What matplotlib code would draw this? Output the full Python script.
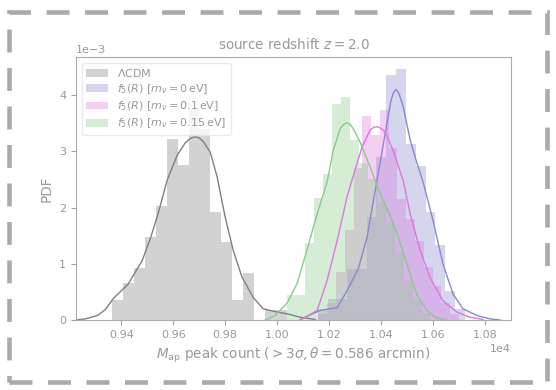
import numpy as np
import matplotlib
matplotlib.use("Agg")
import matplotlib.pyplot as plt
from matplotlib.patches import Rectangle

# ---------------- data (x in peak counts, pdf in units of 1e-3) ----------------
PDF_UNIT = 1e-3

lcdm_edges = [9364, 9406, 9448, 9490, 9532, 9575, 9617, 9659, 9701, 9743,
              9785, 9827, 9869, 9911, 9953, 9995, 10037]
lcdm_heights = [0.36, 0.65, 0.92, 1.47, 2.02, 3.22, 2.75, 3.78, 3.40, 1.93,
                1.38, 0.36, 0.83, 0.0, 0.18, 0.18]

f5_0_edges = [10156, 10194, 10231, 10269, 10307, 10344, 10382, 10420, 10458,
              10495, 10533, 10571, 10608, 10646, 10684, 10722]
f5_0_heights = [0.2, 0.38, 0.38, 0.91, 0.91, 1.83, 2.9, 4.36, 4.47, 3.14,
                2.74, 1.92, 1.33, 0.52, 0.2]

f5_01_edges = [10159, 10193, 10227, 10260, 10294, 10328, 10362, 10396, 10429,
               10463, 10497, 10531, 10565, 10598, 10632, 10666, 10700]
f5_01_heights = [0.1, 0.3, 0.85, 1.6, 2.7, 3.63, 3.29, 3.73, 3.06, 2.16,
                 1.8, 1.4, 0.95, 0.6, 0.3, 0.1]

f5_015_edges = [10038, 10073, 10107, 10142, 10176, 10211, 10245, 10280, 10314,
                10349, 10383, 10418, 10452, 10487, 10521, 10556, 10590]
f5_015_heights = [0.45, 0.45, 1.37, 2.17, 2.6, 3.84, 3.96, 3.2, 2.8, 2.5,
                  2.1, 1.7, 1.2, 0.7, 0.35, 0.12]

# KDE curves
lcdm_kde_x = [9226, 9262, 9308, 9338, 9369, 9427, 9481, 9512, 9538, 9577, 9615,
              9646, 9665, 9685, 9700, 9715, 9742, 9769, 9800, 9831, 9865, 9908,
              9946, 9992, 10038, 10088, 10146]
lcdm_kde_y = [0.0, 0.02, 0.08, 0.18, 0.38, 0.64, 1.06, 1.45, 1.83, 2.49, 2.93,
              3.15, 3.23, 3.26, 3.24, 3.18, 2.99, 2.55, 1.83, 1.24, 0.76, 0.40,
              0.2, 0.15, 0.11, 0.05, 0.01]

f5_0_kde_x = [10088, 10108, 10165, 10204, 10231, 10269, 10312, 10346, 10381,
              10415, 10438, 10448, 10458, 10468, 10485, 10512, 10538, 10562,
              10600, 10638, 10677, 10715, 10769, 10819, 10858]
f5_0_kde_y = [0.0, 0.05, 0.17, 0.2, 0.22, 0.52, 0.91, 1.47, 2.4, 3.3, 3.9,
              4.05, 4.1, 4.04, 3.8, 3.2, 2.79, 2.45, 1.77, 1.0, 0.46, 0.2,
              0.08, 0.02, 0.0]

f5_01_kde_x = [10088, 10108, 10154, 10192, 10231, 10269, 10288, 10327, 10358,
               10372, 10385, 10400, 10415, 10446, 10485, 10512, 10550, 10588,
               10638, 10692, 10742, 10792]
f5_01_kde_y = [0.0, 0.05, 0.17, 0.7, 1.41, 2.19, 2.49, 3.08, 3.38, 3.43, 3.44,
               3.41, 3.35, 3.02, 2.48, 1.89, 1.24, 0.76, 0.34, 0.14, 0.05, 0.01]

f5_015_kde_x = [9954, 9992, 10038, 10077, 10115, 10154, 10192, 10215, 10242,
                10256, 10269, 10281, 10292, 10319, 10358, 10396, 10435, 10462,
                10512, 10538, 10577, 10608, 10646]
f5_015_kde_y = [0.0, 0.08, 0.3, 0.65, 1.25, 1.89, 2.45, 3.0, 3.4, 3.48, 3.51,
                3.48, 3.41, 3.17, 2.72, 2.25, 1.85, 1.53, 0.82, 0.45, 0.17,
                0.05, 0.0]

labels = [r"$\Lambda$CDM",
          r"$f_5(R)$ [$m_\nu = 0\,$eV]",
          r"$f_5(R)$ [$m_\nu = 0.1\,$eV]",
          r"$f_5(R)$ [$m_\nu = 0.15\,$eV]"]
colors = ["#808080", "#8888cc", "#dd77dd", "#88cc88"]

xticks = [9400, 9600, 9800, 10000, 10200, 10400, 10600, 10800]
yticks = [0, 1, 2, 3, 4]

# ---------------- plot ----------------
TXT = "#999999"
plt.rcParams.update({
    "font.family": "DejaVu Sans",
    "font.size": 8,
    "text.color": TXT,
    "axes.labelcolor": TXT,
    "xtick.color": "#a0a0a0",
    "ytick.color": "#a0a0a0",
    "xtick.labelcolor": TXT,
    "ytick.labelcolor": TXT,
    "axes.edgecolor": "#aaaaaa",
})

fig = plt.figure(figsize=(5.56, 3.90), dpi=100)
ax = fig.add_axes([0.1367, 0.1795, 0.7824, 0.6744])

hists = [(lcdm_edges, lcdm_heights), (f5_0_edges, f5_0_heights),
         (f5_01_edges, f5_01_heights), (f5_015_edges, f5_015_heights)]
kdes = [(lcdm_kde_x, lcdm_kde_y), (f5_0_kde_x, f5_0_kde_y),
        (f5_01_kde_x, f5_01_kde_y), (f5_015_kde_x, f5_015_kde_y)]

handles = []
for (edges, h), (kx, ky), c, lab in zip(hists, kdes, colors, labels):
    e = np.asarray(edges, float)
    b = ax.bar(e[:-1], np.asarray(h) * PDF_UNIT, width=np.diff(e), align="edge",
               color=c, alpha=0.35, linewidth=0, label=lab)
    handles.append(b)
    ax.plot(kx, np.asarray(ky) * PDF_UNIT, color=c, lw=1.0,
            solid_joinstyle="round")

ax.set_xlim(9226, 10900)
ax.set_ylim(0, 4.68e-3)
ax.set_xticks(xticks)
ax.set_yticks(np.asarray(yticks) * PDF_UNIT)
ax.ticklabel_format(style="sci", scilimits=(0, 0), axis="both")
for ot in (ax.xaxis.get_offset_text(), ax.yaxis.get_offset_text()):
    ot.set_color(TXT)
    ot.set_fontsize(8)

ax.set_xlabel(r"$M_{\rm ap}$ peak count ($>3\sigma, \theta=0.586$ arcmin)", fontsize=9.75)
ax.set_ylabel("PDF", fontsize=9.75)
ax.set_title(r"source redshift $z = 2.0$", fontsize=9.75, color=TXT)

leg = ax.legend(handles=handles, loc="upper left", fontsize=8, frameon=True,
                labelspacing=0.3)
leg.get_frame().set_edgecolor("#e6e6e6")
for t in leg.get_texts():
    t.set_color(TXT)

# dashed frame around the figure
fig.patches.append(Rectangle((0.0153, 0.020), 0.9694, 0.9485,
                             transform=fig.transFigure, fill=False,
                             ec="#aaaaaa", lw=3.3, ls=(0, (5.0, 3.4)),
                             capstyle="butt", joinstyle="miter"))

fig.savefig("out.png", dpi=100)
